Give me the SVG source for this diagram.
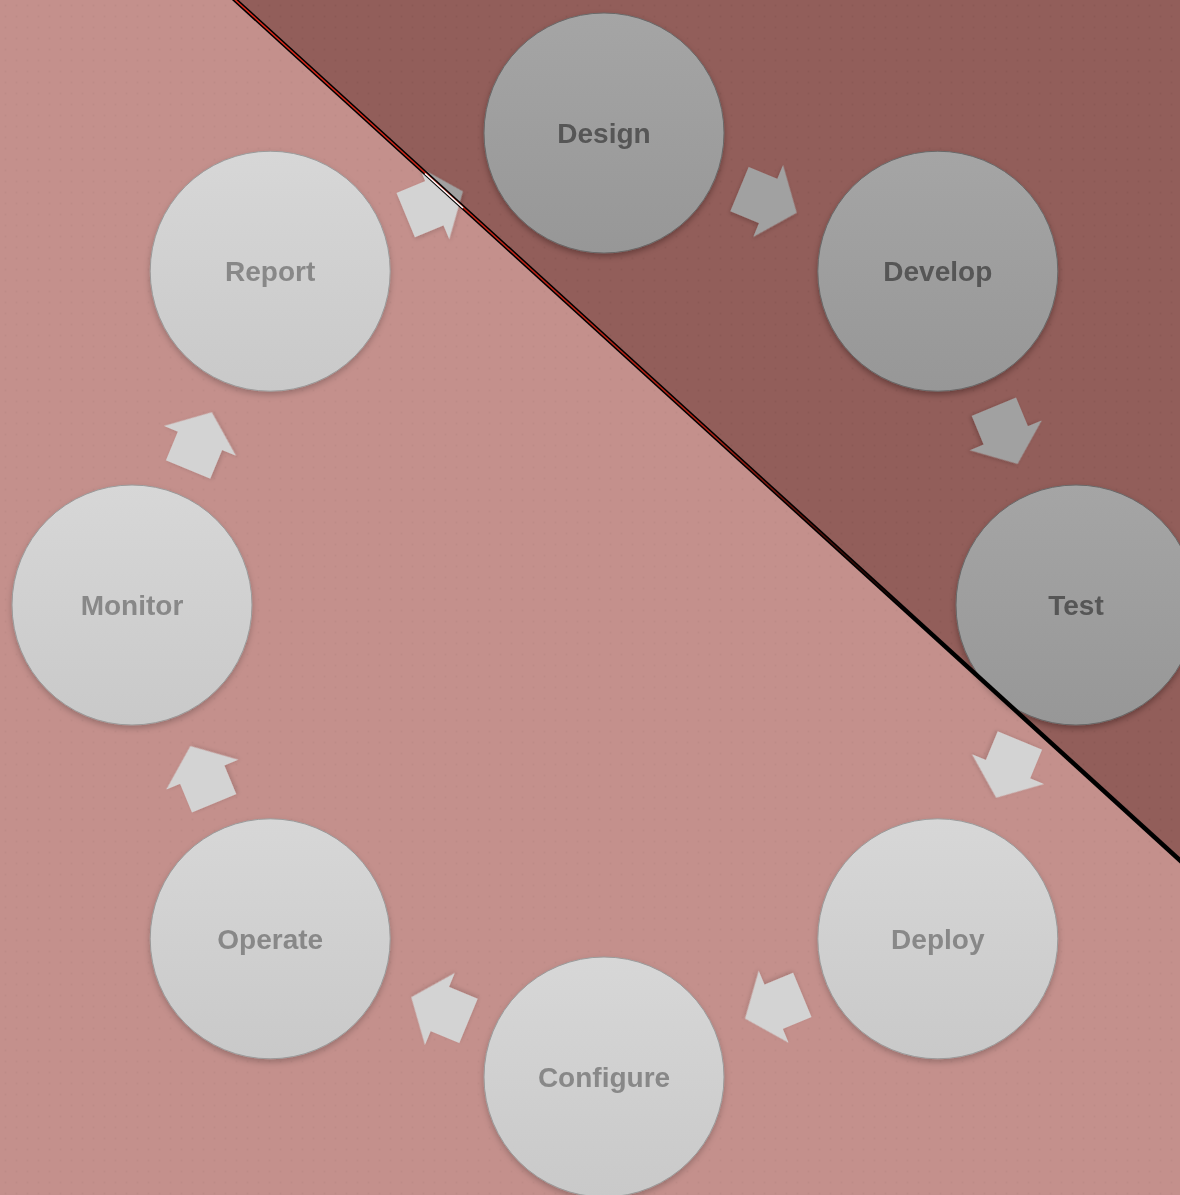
<svg xmlns="http://www.w3.org/2000/svg" width="1180" height="1195" viewBox="0 0 1180 1195">
<style>
.node circle{fill:url(#cg);stroke:#9a9a9a;stroke-width:1;filter:url(#sh)}
.node text{font-family:"Liberation Sans",Arial,sans-serif;font-weight:bold;font-size:28px;fill:#888888;text-anchor:middle}
.arrow{fill:#d3d3d3;filter:url(#sh2)}
</style>
<defs>
<linearGradient id="cg" x1="0" y1="0" x2="0" y2="1">
<stop offset="0" stop-color="#d7d7d7"/>
<stop offset="1" stop-color="#c9c9c9"/>
</linearGradient>
<linearGradient id="lg" gradientUnits="userSpaceOnUse" x1="235" y1="0" x2="1180" y2="860">
<stop offset="0" stop-color="#e0281a"/>
<stop offset="0.5" stop-color="#b02014"/>
<stop offset="0.72" stop-color="#000000"/>
</linearGradient>
<filter id="sh" x="-20%" y="-20%" width="140%" height="150%">
<feDropShadow dx="0" dy="3" stdDeviation="3" flood-color="#000" flood-opacity="0.22"/>
</filter>
<filter id="sh2" x="-30%" y="-30%" width="160%" height="160%">
<feDropShadow dx="0" dy="2" stdDeviation="2" flood-color="#000" flood-opacity="0.15"/>
</filter>
<pattern id="dots" width="11" height="11" patternUnits="userSpaceOnUse">
<circle cx="5.5" cy="5.5" r="0.9" fill="#000" fill-opacity="0.035"/>
</pattern>
<polygon id="arr" points="-34,-24 -3,-24 -3,-39 28,0 -3,39 -3,24 -34,24"/>
</defs>
<rect width="1180" height="1195" fill="#c4908c"/>
<rect width="1180" height="1195" fill="url(#dots)"/>
<g id="connectors">
<use href="#arr" class="arrow" transform="translate(770.9,202.1) rotate(22.5)"/>
<use href="#arr" class="arrow" transform="translate(1006.9,438.1) rotate(67.5)"/>
<use href="#arr" class="arrow" transform="translate(1006.9,771.9) rotate(112.5)"/>
<use href="#arr" class="arrow" transform="translate(770.9,1007.9) rotate(157.5)"/>
<use href="#arr" class="arrow" transform="translate(437.1,1007.9) rotate(202.5)"/>
<use href="#arr" class="arrow" transform="translate(201.1,771.9) rotate(247.5)"/>
<use href="#arr" class="arrow" transform="translate(201.1,438.1) rotate(292.5)"/>
<use href="#arr" class="arrow" transform="translate(437.1,202.1) rotate(337.5)"/>
</g>
<g id="node-design" class="node"><circle cx="604" cy="133" r="120"/><text x="604" y="143">Design</text></g>
<g id="node-develop" class="node"><circle cx="937.8" cy="271.2" r="120"/><text x="937.8" y="281.2">Develop</text></g>
<g id="node-test" class="node"><circle cx="1076" cy="605" r="120"/><text x="1076" y="615">Test</text></g>
<g id="node-deploy" class="node"><circle cx="937.8" cy="938.8" r="120"/><text x="937.8" y="948.8">Deploy</text></g>
<g id="node-configure" class="node"><circle cx="604" cy="1077" r="120"/><text x="604" y="1087">Configure</text></g>
<g id="node-operate" class="node"><circle cx="270.2" cy="938.8" r="120"/><text x="270.2" y="948.8">Operate</text></g>
<g id="node-monitor" class="node"><circle cx="132" cy="605" r="120"/><text x="132" y="615">Monitor</text></g>
<g id="node-report" class="node"><circle cx="270.2" cy="271.2" r="120"/><text x="270.2" y="281.2">Report</text></g>
<g id="shade">
<polygon points="235,0 1180,0 1180,860" fill="#323232" style="mix-blend-mode:difference"/>
<line x1="232" y1="-3" x2="1184" y2="864" stroke="#000" stroke-width="4.5"/>
<line x1="232" y1="-3" x2="1184" y2="864" stroke="url(#lg)" stroke-width="1.5"/>
<line x1="425" y1="173.5" x2="463" y2="208" stroke="#ffffff" stroke-width="1.5"/>
</g>
</svg>
